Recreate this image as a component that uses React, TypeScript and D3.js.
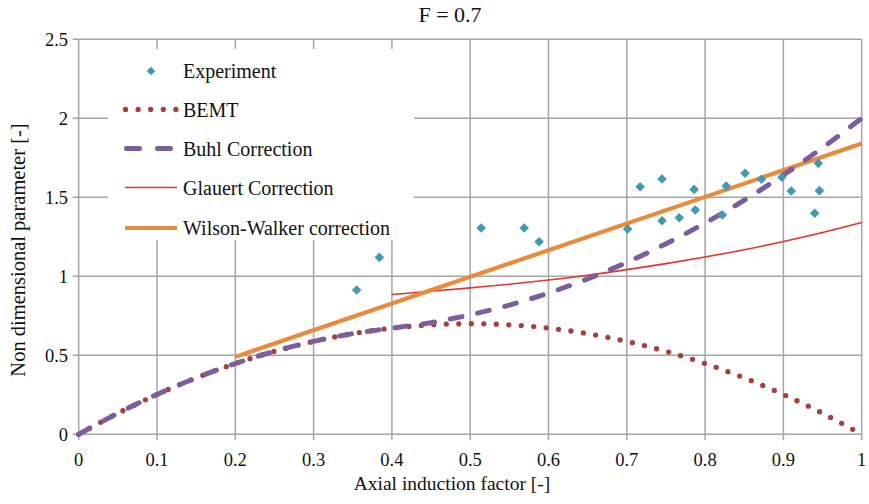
import React from "react";
import * as d3 from "d3";

const xTicks = [0, 0.1, 0.2, 0.3, 0.4, 0.5, 0.6, 0.7, 0.8, 0.9, 1];
const xTickLabels = ["0", "0.1", "0.2", "0.3", "0.4", "0.5", "0.6", "0.7", "0.8", "0.9", "1"];
const yTicks = [0, 0.5, 1, 1.5, 2, 2.5];
const yTickLabels = ["0", "0.5", "1", "1.5", "2", "2.5"];

const bemtA = [0, 0.05, 0.1, 0.15, 0.2, 0.25, 0.3, 0.35, 0.4, 0.45, 0.5, 0.55, 0.6, 0.65, 0.7, 0.75, 0.8, 0.85, 0.9, 0.95, 1];
const bemtV = [0, 0.133, 0.252, 0.357, 0.448, 0.525, 0.588, 0.637, 0.672, 0.693, 0.7, 0.693, 0.672, 0.637, 0.588, 0.525, 0.448, 0.357, 0.252, 0.133, 0];

const buhlA = [0, 0.05, 0.1, 0.15, 0.2, 0.25, 0.3, 0.35, 0.4, 0.45, 0.5, 0.55, 0.6, 0.65, 0.7, 0.75, 0.8, 0.85, 0.9, 0.95, 1];
const buhlV = [0, 0.133, 0.252, 0.357, 0.448, 0.525, 0.588, 0.637, 0.672, 0.707, 0.756, 0.818, 0.894, 0.984, 1.088, 1.206, 1.337, 1.482, 1.641, 1.814, 2.0];

const glauertA = [0.4, 0.45, 0.5, 0.55, 0.6, 0.65, 0.7, 0.75, 0.8, 0.85, 0.9, 0.95, 1];
const glauertV = [0.885, 0.905, 0.927, 0.95, 0.977, 1.007, 1.042, 1.08, 1.122, 1.168, 1.22, 1.277, 1.34];

const wilsonA = [0.2, 1];
const wilsonV = [0.49, 1.84];

const expA = [0.355, 0.384, 0.514, 0.569, 0.588, 0.701, 0.717, 0.745, 0.745, 0.767, 0.786, 0.7875, 0.822, 0.827, 0.851, 0.872, 0.898, 0.91, 0.9446, 0.946, 0.94];
const expV = [0.913, 1.12, 1.306, 1.306, 1.219, 1.3, 1.567, 1.616, 1.352, 1.371, 1.55, 1.42, 1.388, 1.571, 1.652, 1.614, 1.627, 1.54, 1.715, 1.542, 1.399];

const legendLabels = ["Experiment", "BEMT", "Buhl Correction", "Glauert Correction", "Wilson-Walker correction"];

const C_EXP = "#4299B0";
const C_BEMT = "#A63F3C";
const C_BUHL = "#7B5E9E";
const C_GLAUERT = "#E8332A";
const C_WW = "#E88B3C";
const C_GRID = "#A6A6A6";
const FONT = "Liberation Serif, Tinos, Times New Roman, Times, DejaVu Serif, Noto Serif, serif";

export default function App() {
  const W = 869, H = 504;
  const x = d3.scaleLinear().domain([0, 1]).range([78.7, 861.7]);
  const y = d3.scaleLinear().domain([0, 2.5]).range([434.3, 39.3]);

  const line = d3.line<[number, number]>().x(d => x(d[0])).y(d => y(d[1]));
  const smooth = d3.line<[number, number]>().x(d => x(d[0])).y(d => y(d[1])).curve(d3.curveMonotoneX);

  const bemt = smooth(bemtA.map((a, i) => [a, bemtV[i]]) as [number, number][]) || "";
  const buhl = smooth(buhlA.map((a, i) => [a, buhlV[i]]) as [number, number][]) || "";
  const glauert = smooth(glauertA.map((a, i) => [a, glauertV[i]]) as [number, number][]) || "";
  const wilson = line(wilsonA.map((a, i) => [a, wilsonV[i]]) as [number, number][]) || "";

  const diamond = (cx: number, cy: number, r: number) =>
    `M${cx},${cy - r}L${cx + r},${cy}L${cx},${cy + r}L${cx - r},${cy}Z`;

  const [x0, x1] = x.range();
  const [y0, y1] = y.range();

  const legX0 = 124, legX1 = 178, legTextX = 183;
  const legY = [71, 109.5, 148.5, 187.5, 228];

  return (
    <svg width={W} height={H} style={{ position: "absolute", left: 0, top: 0, background: "#fff", fontFamily: FONT }}>
      <rect x={0} y={0} width={W} height={H} fill="#fff" />
      {xTicks.map((t, i) => (
        <line key={"gx" + i} x1={x(t)} x2={x(t)} y1={y1} y2={y0 + 6} stroke={C_GRID} strokeWidth={1.5} />
      ))}
      {yTicks.map((t, i) => (
        <line key={"gy" + i} x1={x0 - 6} x2={x1} y1={y(t)} y2={y(t)} stroke={C_GRID} strokeWidth={1.5} />
      ))}
      {xTicks.map((t, i) => (
        <text key={"tx" + i} x={x(t)} y={466} textAnchor="middle" fontSize={18.5} fill="#111">{xTickLabels[i]}</text>
      ))}
      {yTicks.map((t, i) => (
        <text key={"ty" + i} x={68} y={y(t)} dy="0.35em" textAnchor="end" fontSize={18.5} fill="#111">{yTickLabels[i]}</text>
      ))}
      <text x={450} y={22} textAnchor="middle" fontSize={22} fill="#111">F = 0.7</text>
      <text x={452} y={490} textAnchor="middle" fontSize={19.5} fill="#111">Axial induction factor [-]</text>
      <text transform="translate(25,250) rotate(-90)" textAnchor="middle" fontSize={20.5} fill="#111">Non dimensional parameter [-]</text>

      <rect x={108} y={49} width={306} height={191} fill="#fff" />

      <path d={glauert} fill="none" stroke={C_GLAUERT} strokeWidth={1.6} />
      <path d={wilson} fill="none" stroke={C_WW} strokeWidth={4.2} />
      <path d={bemt} fill="none" stroke={C_BEMT} strokeWidth={5.3} strokeLinecap="round" strokeDasharray="0 12.5" />
      <path d={buhl} fill="none" stroke={C_BUHL} strokeWidth={5} strokeLinecap="round" strokeDasharray="12 16" />
      {expA.map((a, i) => (
        <path key={"e" + i} d={diamond(x(a), y(expV[i]), 4.8)} fill={C_EXP} />
      ))}

      <path d={diamond(151, legY[0], 4.3)} fill={C_EXP} />
      <line x1={legX0 + 1.5} x2={legX1} y1={legY[1]} y2={legY[1]} stroke={C_BEMT} strokeWidth={5.3} strokeLinecap="round" strokeDasharray="0 12.6" />
      <line x1={legX0 + 2.5} x2={legX1} y1={legY[2]} y2={legY[2]} stroke={C_BUHL} strokeWidth={5} strokeLinecap="round" strokeDasharray="13 18" />
      <line x1={legX0 + 1} x2={legX1 - 1} y1={legY[3]} y2={legY[3]} stroke={C_GLAUERT} strokeWidth={1.6} />
      <line x1={legX0 + 1} x2={legX1 - 1} y1={legY[4]} y2={legY[4]} stroke={C_WW} strokeWidth={4.2} />
      {legendLabels.map((l, i) => (
        <text key={"l" + i} x={legTextX} y={legY[i]} dy="0.35em" fontSize={20} fill="#111">{l}</text>
      ))}
    </svg>
  );
}
